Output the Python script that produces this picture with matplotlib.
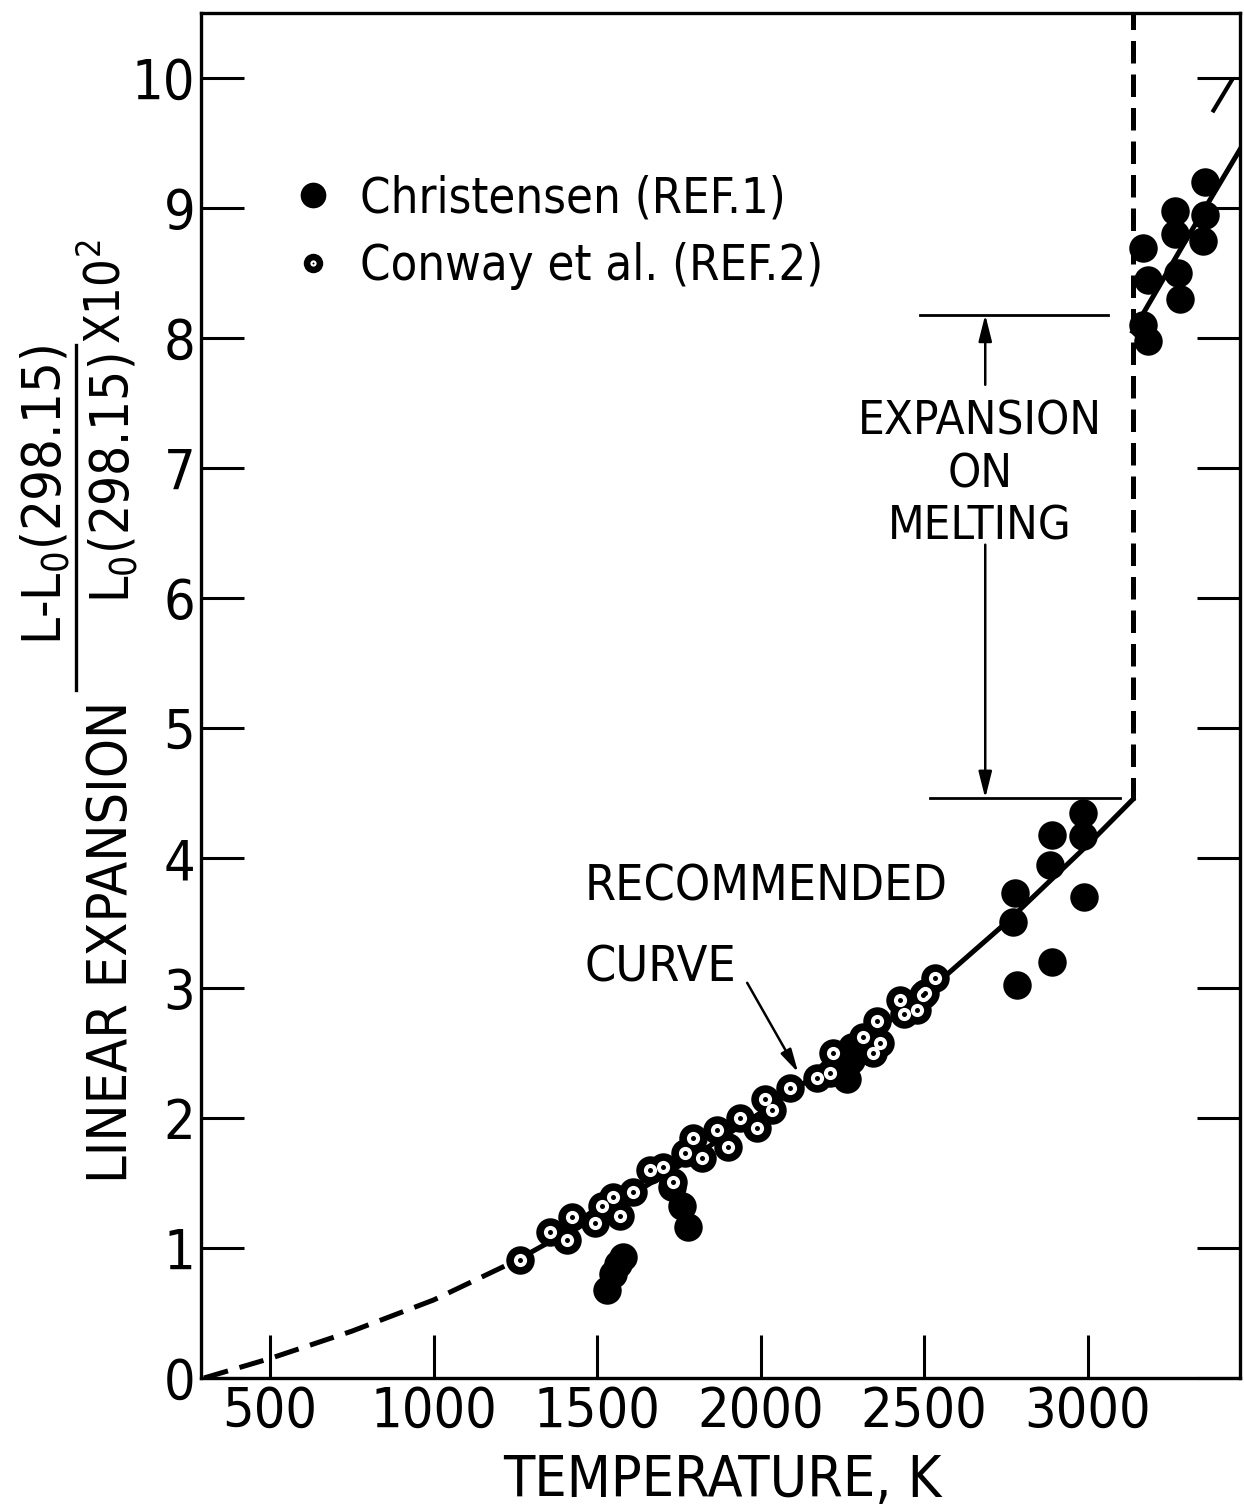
import matplotlib
matplotlib.use("Agg")
import matplotlib.pyplot as plt
from matplotlib import font_manager as fm
from matplotlib.lines import Line2D

# ---------------------------------------------------------------------------
# Data
# ---------------------------------------------------------------------------

# recommended curve, solid phase (dashed below DASH_END)
curve_T = [298, 500, 750, 1000, 1250, 1500, 1750, 2000, 2250, 2500, 2750, 3000, 3138]
curve_y = [0.0, 0.15, 0.36, 0.60, 0.90, 1.25, 1.63, 2.04, 2.47, 2.95, 3.50, 4.10, 4.45]
DASH_END_IDX = 4          # curve_T[4] = 1250 K
T_MELT = 3138
Y_TOP = 10.5

# recommended curve, liquid phase
liquid_T = [3138, 3300, 3466]
liquid_y = [8.05, 8.75, 9.45]

# short segment at the upper right corner
corner_T = [3385, 3440]
corner_y = [9.75, 9.98]

# Christensen (REF.1)
christ_T = [1530, 1550, 1565, 1580, 1730, 1760, 1778, 2265, 2275, 2280,
            2772, 2778, 2785, 2885, 2890, 2891, 2985, 2985, 2990,
            3170, 3185, 3170, 3185, 3268, 3268, 3277, 3283, 3359, 3359, 3353]
christ_y = [0.68, 0.80, 0.88, 0.93, 1.47, 1.32, 1.16, 2.30, 2.45, 2.55,
            3.51, 3.73, 3.02, 3.95, 4.18, 3.20, 4.35, 4.17, 3.70,
            8.69, 8.45, 8.10, 7.98, 8.98, 8.80, 8.50, 8.30, 9.20, 8.95, 8.75]

# Conway et al. (REF.2)
conway_T = [1265, 1356, 1408, 1424, 1494, 1515, 1549, 1570, 1610, 1662, 1702, 1732,
            1769, 1794, 1821, 1867, 1901, 1937, 1989, 2014, 2035, 2090, 2173, 2213,
            2222, 2313, 2344, 2356, 2365, 2427, 2440, 2479, 2497, 2503, 2533]
conway_y = [0.91, 1.12, 1.06, 1.24, 1.19, 1.32, 1.39, 1.25, 1.43, 1.60, 1.62, 1.51,
            1.73, 1.85, 1.69, 1.91, 1.78, 2.00, 1.92, 2.15, 2.06, 2.23, 2.31, 2.35,
            2.50, 2.62, 2.50, 2.75, 2.58, 2.91, 2.80, 2.83, 2.95, 2.96, 3.08]

# expansion-on-melting bracket
bracket_top_T = [2488, 3063]
bracket_top_y = 8.18
bracket_bot_T = [2518, 3099]
bracket_bot_y = 4.46
ARROW_T = 2687
arrow_gap = [7.64, 6.41]   # text sits between these

x_ticks = [500, 1000, 1500, 2000, 2500, 3000]
y_ticks = list(range(0, 11))


# ---------------------------------------------------------------------------
# Fonts
# ---------------------------------------------------------------------------

def pick_font():
    fonts = fm.fontManager.ttflist
    names = {f.name for f in fonts}
    if "Liberation Sans Narrow" in names:
        return "Liberation Sans Narrow", "normal"
    if any(f.name == "DejaVu Sans" and "Condensed" in f.fname for f in fonts):
        return "DejaVu Sans", "condensed"
    return "DejaVu Sans", "normal"


FONT, STRETCH = pick_font()
plt.rcParams["font.family"] = [FONT, "DejaVu Sans"]
plt.rcParams["font.stretch"] = STRETCH
plt.rcParams["mathtext.fontset"] = "custom"
plt.rcParams["mathtext.rm"] = FONT
plt.rcParams["mathtext.default"] = "regular"

W, H = 1244, 1512
fig = plt.figure(figsize=(W / 100, H / 100), dpi=100)


def fx(px):
    return px / W


def fy(py):
    return 1 - py / H


ax = fig.add_axes([fx(200.7), fy(1378), fx(1240) - fx(200.7), fy(13) - fy(1378)])
ax.set_xlim(288, 3466)
ax.set_ylim(0, Y_TOP)

for s in ax.spines.values():
    s.set_linewidth(2.4)

ax.set_xticks(x_ticks)
ax.set_xticklabels([str(t) for t in x_ticks])
ax.set_yticks(y_ticks)
ax.set_yticklabels([str(t) for t in y_ticks])
ax.tick_params(axis="x", direction="in", length=31, width=2.2, labelsize=40, pad=5,
               top=False)
ax.tick_params(axis="y", direction="in", length=31, width=2.2, labelsize=40, pad=4,
               right=True)

# ---------------------------------------------------------------------------
# Curves
# ---------------------------------------------------------------------------
ax.plot(curve_T[:DASH_END_IDX + 1], curve_y[:DASH_END_IDX + 1], color="black",
        lw=3.6, dashes=(5, 2.4), solid_capstyle="butt", zorder=2)
ax.plot(curve_T[DASH_END_IDX:], curve_y[DASH_END_IDX:], color="black", lw=3.6, zorder=2)
ax.plot([T_MELT, T_MELT], [curve_y[-1], Y_TOP], color="black", lw=3.6,
        dashes=(4.5, 2.2), zorder=2)
ax.plot(liquid_T, liquid_y, color="black", lw=3.6, zorder=2)
ax.plot(corner_T, corner_y, color="black", lw=3.0, zorder=2)

# ---------------------------------------------------------------------------
# Data points
# ---------------------------------------------------------------------------
ax.plot(conway_T, conway_y, "o", color="black", ms=20.5, mew=0, zorder=3)
ax.plot(conway_T, conway_y, "o", color="white", ms=9.5, mew=0, zorder=4)
ax.plot(conway_T, conway_y, "o", color="black", ms=3.6, mew=0, zorder=5)
ax.plot(christ_T, christ_y, "o", color="black", ms=20.5, mew=0, zorder=3)

# legend
h_christ = Line2D([], [], ls="none", marker="o", color="black", ms=18.5, mew=0)
h_con1 = Line2D([], [], ls="none", marker="o", color="black", ms=14, mew=0)
h_con2 = Line2D([], [], ls="none", marker="o", color="white", ms=4.5, mew=0)
h_con3 = Line2D([], [], ls="none", marker="o", color="black", ms=1.4, mew=0)
ax.legend([h_christ, (h_con1, h_con2, h_con3)],
          ["Christensen (REF.1)", "Conway et al. (REF.2)"],
          loc="upper left", bbox_to_anchor=(0.085, 0.882), frameon=False,
          fontsize=35, handlelength=1.0, handletextpad=0.45, labelspacing=0.42,
          borderpad=0, borderaxespad=0)

# ---------------------------------------------------------------------------
# Annotations
# ---------------------------------------------------------------------------
ax.plot(bracket_top_T, [bracket_top_y] * 2, color="black", lw=2.0)
ax.plot(bracket_bot_T, [bracket_bot_y] * 2, color="black", lw=2.0)
arrow_kw = dict(arrowstyle="-|>,head_length=1.6,head_width=0.4", color="black", lw=1.8,
                shrinkA=0, shrinkB=0)
ax.annotate("", xy=(ARROW_T, bracket_top_y), xytext=(ARROW_T, arrow_gap[0]),
            arrowprops=arrow_kw)
ax.annotate("", xy=(ARROW_T, bracket_bot_y), xytext=(ARROW_T, arrow_gap[1]),
            arrowprops=arrow_kw)
ax.text(2671, 6.95, "EXPANSION\nON\nMELTING", ha="center", va="center", fontsize=34,
        linespacing=1.22)

ax.text(1463, 3.78, "RECOMMENDED", ha="left", va="center", fontsize=36)
ax.text(1463, 3.16, "CURVE", ha="left", va="center", fontsize=36)
ax.annotate("", xy=(2115, 2.35), xytext=(1959, 3.04),
            arrowprops=dict(arrowstyle="-|>,head_length=1.4,head_width=0.35",
                            color="black", lw=1.8, shrinkA=0, shrinkB=0))

# ---------------------------------------------------------------------------
# Axis titles
# ---------------------------------------------------------------------------
fig.text(fx(722), fy(1482), "TEMPERATURE, K", ha="center", va="center", fontsize=41)

fig.text(fx(112), fy(942), "LINEAR EXPANSION", rotation=90, ha="center", va="center",
         fontsize=40)
fig.text(fx(46), fy(495), "L-L$_0$(298.15)", rotation=90, ha="center", va="center",
         fontsize=39)
fig.add_artist(Line2D([fx(76), fx(76)], [fy(690), fy(345)], color="black", lw=2.4,
                      transform=fig.transFigure))
fig.text(fx(114), fy(478), "L$_0$(298.15)", rotation=90, ha="center", va="center",
         fontsize=38)
fig.text(fx(106), fy(292), "X10$^2$", rotation=90, ha="center", va="center", fontsize=35)

fig.savefig("out.png", dpi=100)
